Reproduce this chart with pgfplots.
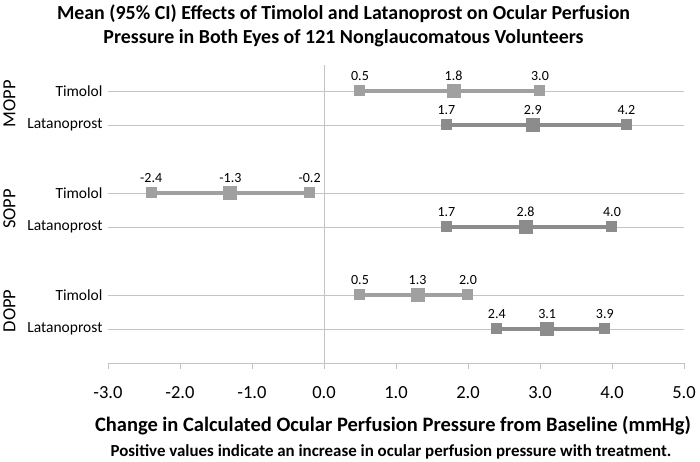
\documentclass[border=0pt]{standalone}
\usepackage{pgfplots}
\pgfplotsset{compat=1.18}
\usepackage{fontspec}
\setmainfont{Carlito}
\definecolor{tim}{HTML}{A0A0A0}
\definecolor{lat}{HTML}{8C8C8C}
\definecolor{gridc}{HTML}{C4C4C4}
\pgfplotsset{
  rowline/.style={color=#1, line width=4.8pt, mark=square*, mark size=5pt,
    mark options={line width=0pt, fill=#1, draw=#1},
    nodes near coords={\pgfmathprintnumber[fixed,fixed zerofill,precision=1]{\pgfplotspointmeta}},
    point meta=x,
    nodes near coords style={font=\fontsize{14}{16}\selectfont, text=black, anchor=south, yshift=7pt}},
  meanmark/.style={only marks, mark=square*, mark size=6.5pt, color=#1,
    mark options={line width=0pt, fill=#1, draw=#1}},
}
\begin{document}
\begin{tikzpicture}[x=1pt,y=1pt]
\path[use as bounding box] (-108,-99) rectangle (592,363);
\begin{axis}[
  at={(0,0)}, anchor=south west,
  scale only axis, width=576pt, height=298pt,
  xmin=-3, xmax=5, ymin=0, ymax=8.765,
  axis x line=bottom, axis y line=left,
  y axis line style={draw=none},
  x axis line style={gridc, -},
  xtick={-3,-2,...,5},
  xticklabel style={font=\fontsize{18.5}{21}\selectfont, yshift=-14pt},
  /pgf/number format/assume math mode=true,
  xticklabel={\pgfmathprintnumber[fixed,fixed zerofill,precision=1]{\tick}},
  xtick style={gridc, line width=0.8pt},
  tick align=outside, major tick length=6pt,
  ytick={1,2,4,5,7,8},
  yticklabels={Latanoprost,Timolol,Latanoprost,Timolol,Latanoprost,Timolol},
  yticklabel style={font=\fontsize{15.5}{17}\selectfont, xshift=4pt},
  ytick style={draw=none},
  ymajorgrids, grid style={gridc, line width=0.8pt},
  clip=false,
]
\draw[gridc, line width=0.8pt] (axis cs:0,0) -- (axis cs:0,8.765);
% MOPP
\addplot[rowline=tim] coordinates {(0.5,8) (1.8,8) (3.0,8)};
\addplot[meanmark=tim] coordinates {(1.8,8)};
\addplot[rowline=lat] coordinates {(1.7,7) (2.9,7) (4.2,7)};
\addplot[meanmark=lat] coordinates {(2.9,7)};
% SOPP
\addplot[rowline=tim] coordinates {(-2.4,5) (-1.3,5) (-0.2,5)};
\addplot[meanmark=tim] coordinates {(-1.3,5)};
\addplot[rowline=lat] coordinates {(1.7,4) (2.8,4) (4.0,4)};
\addplot[meanmark=lat] coordinates {(2.8,4)};
% DOPP
\addplot[rowline=tim] coordinates {(0.5,2) (1.3,2) (2.0,2)};
\addplot[meanmark=tim] coordinates {(1.3,2)};
\addplot[rowline=lat] coordinates {(2.4,1) (3.1,1) (3.9,1)};
\addplot[meanmark=lat] coordinates {(3.1,1)};
\end{axis}
\node[font=\bfseries\fontsize{19.9}{24}\selectfont, align=center] at (235.5,337)
  {Mean (95\% CI) Effects of Timolol and Latanoprost on Ocular Perfusion\\Pressure in Both Eyes of 121 Nonglaucomatous Volunteers};
\node[rotate=90, font=\fontsize{18.5}{20}\selectfont] at (-98.5,259) {MOPP};
\node[rotate=90, font=\fontsize{18.5}{20}\selectfont] at (-98.5,154) {SOPP};
\node[rotate=90, font=\fontsize{18.5}{20}\selectfont] at (-98.5,52) {DOPP};
\node[font=\bfseries\fontsize{20.5}{22}\selectfont] at (285,-63) {Change in Calculated Ocular Perfusion Pressure from Baseline (mmHg)};
\node[font=\bfseries\fontsize{16.9}{18}\selectfont] at (283,-89) {Positive values indicate an increase in ocular perfusion pressure with treatment.};
\end{tikzpicture}
\end{document}
